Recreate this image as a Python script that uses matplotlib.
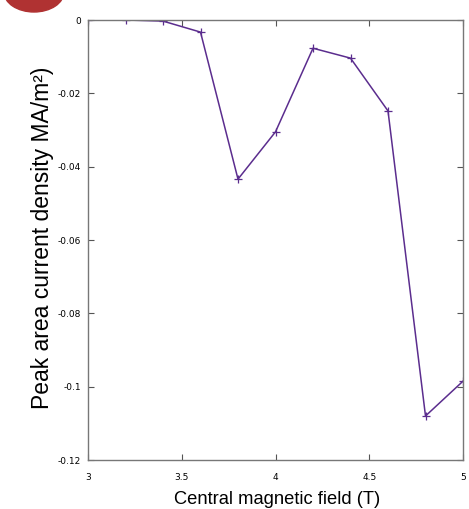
import numpy as np
import matplotlib.pyplot as plt
from matplotlib.patches import Ellipse

# central field (T) and peak area current density (MA/m^2)
field = [3.0, 3.2, 3.4, 3.6, 3.8, 4.0, 4.2, 4.4, 4.6, 4.8, 5.0]
density = [0.0, 0.0, -0.0003, -0.0033, -0.0434, -0.0305, -0.0077, -0.0104, -0.0248, -0.108, -0.0985]

xticks = [3, 3.5, 4, 4.5, 5]
xticklabels = ['3', '3.5', '4', '4.5', '5']
yticks = [0, -0.02, -0.04, -0.06, -0.08, -0.1, -0.12]
yticklabels = ['0', '-0.02', '-0.04', '-0.06', '-0.08', '-0.1', '-0.12']

W, H = 469, 509
fig = plt.figure(figsize=(W / 100, H / 100), dpi=100)
ax = fig.add_axes([88 / W, 1 - 460 / H, (463 - 88) / W, (460 - 20) / H])

ax.plot(field, density, color='#5b2d8e', lw=1.1, marker='+', ms=6, mew=0.9)

ax.set_xlim(3, 5)
ax.set_ylim(-0.12, 0)
ax.set_xticks(xticks)
ax.set_xticklabels(xticklabels)
ax.set_yticks(yticks)
ax.set_yticklabels(yticklabels)
ax.tick_params(direction='in', length=4, width=0.8, labelsize=6.5, color='#555555',
               top=True, right=True)
ax.tick_params(axis='x', pad=9)
ax.tick_params(axis='y', pad=5)
for s in ax.spines.values():
    s.set_color('#777777')
    s.set_linewidth(1.0)

ax.set_xlabel('Central magnetic field (T)', fontsize=13.2, family='Liberation Sans')
ax.xaxis.set_label_coords(0.503, -(499 - 460) / 440, transform=ax.transAxes)
ax.xaxis.label.set_va('center')
ax.set_ylabel('Peak area current density MA/m²)', fontsize=16.5, family='Liberation Sans')
ax.yaxis.set_label_coords(-(88 - 42) / 375, 0.506, transform=ax.transAxes)
ax.yaxis.label.set_va('center')

# red logo cut off at the top-left corner
logo = Ellipse((34 / W, 1 + 8 / H), 60 / W, 40 / H, transform=fig.transFigure,
               color='#b03232', clip_on=False)
fig.patches.append(logo)

fig.savefig('out.png', dpi=100)
